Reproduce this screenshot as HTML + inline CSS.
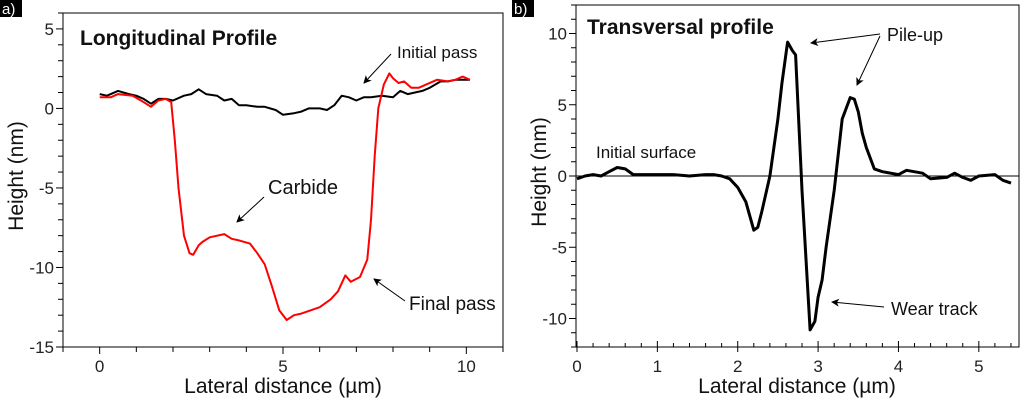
<!DOCTYPE html>
<html><head><meta charset="utf-8"><style>
body{margin:0;background:#fff;width:1024px;height:400px;overflow:hidden}
svg{display:block;font-family:"Liberation Sans",sans-serif}
</style></head><body>
<svg id="chart" width="1024" height="400" viewBox="0 0 1024 400">
<defs><marker id="ah" markerWidth="8" markerHeight="8" refX="7" refY="4" orient="auto" markerUnits="userSpaceOnUse"><path d="M0,0 L8,4 L0,8 L2,4 Z" fill="#000"/></marker></defs>
<g id="ga"></g>
<g id="gb"></g>
</svg>
<script>
const initialX=[0,0.2,0.5,0.8,1.0,1.2,1.4,1.6,1.8,2.0,2.3,2.5,2.7,2.9,3.2,3.4,3.6,3.8,4.0,4.3,4.5,4.8,5.0,5.3,5.5,5.7,6.0,6.2,6.4,6.6,6.8,7.0,7.2,7.4,7.7,8.0,8.2,8.4,8.6,8.8,9.0,9.3,9.5,9.7,9.9,10.1];
const initialY=[0.9,0.8,1.1,0.9,0.8,0.6,0.3,0.6,0.6,0.5,0.8,0.9,1.2,0.9,0.8,0.5,0.6,0.2,0.2,0.1,0.1,-0.1,-0.4,-0.3,-0.2,0,0,-0.1,0.2,0.8,0.7,0.5,0.7,0.7,0.8,0.7,1.1,0.9,1.0,1.1,1.3,1.7,1.7,1.8,1.8,1.8];
const finalX=[0,0.3,0.5,0.9,1.2,1.4,1.6,1.8,1.95,2.05,2.15,2.3,2.45,2.55,2.7,2.8,3.0,3.4,3.6,3.8,4.1,4.3,4.5,4.7,4.9,5.1,5.3,5.5,6.0,6.3,6.5,6.7,6.85,7.1,7.3,7.4,7.5,7.6,7.75,7.9,8.0,8.15,8.3,8.5,8.7,8.9,9.2,9.5,9.7,9.9,10.1];
const finalY=[0.7,0.7,0.9,0.8,0.4,0.1,0.5,0.6,0.4,-2,-5,-8,-9.1,-9.2,-8.6,-8.4,-8.1,-7.9,-8.2,-8.3,-8.5,-9.1,-9.8,-11.2,-12.7,-13.3,-13.0,-12.9,-12.5,-12.0,-11.5,-10.5,-10.9,-10.6,-9.5,-7,-3,0,1.5,2.2,1.9,1.6,1.7,1.3,1.3,1.5,1.8,1.7,1.8,2.0,1.8];
const transX=[0,0.1,0.2,0.3,0.4,0.5,0.6,0.7,0.8,1.0,1.2,1.4,1.6,1.7,1.8,1.9,2.0,2.1,2.2,2.25,2.3,2.4,2.5,2.55,2.62,2.68,2.72,2.8,2.9,2.96,3.0,3.05,3.1,3.2,3.3,3.4,3.45,3.5,3.55,3.6,3.7,3.8,4.0,4.1,4.3,4.4,4.6,4.7,4.8,4.9,5.0,5.2,5.3,5.4];
const transY=[-0.2,0,0.1,0,0.3,0.6,0.5,0.1,0.1,0.1,0.1,0,0.1,0.1,0,-0.2,-0.8,-1.8,-3.8,-3.6,-2.5,0,4,6.5,9.4,8.8,8.5,-1,-10.8,-10.2,-8.5,-7.3,-5,-1,4,5.5,5.4,4.5,3.0,2.0,0.5,0.3,0.1,0.4,0.2,-0.2,-0.1,0.2,-0.1,-0.3,0,0.1,-0.3,-0.5];
const aXTicks=[0,5,10];
const aYTicks=[5,0,-5,-10,-15];
const bXTicks=[0,1,2,3,4,5];
const bYTicks=[10,5,0,-5,-10];

const NS='http://www.w3.org/2000/svg';
function mk(p,t,a){const e=document.createElementNS(NS,t);for(const k in a)e.setAttribute(k,a[k]);p.appendChild(e);return e;}
function lin(d0,d1,r0,r1){return v=>r0+(v-d0)*(r1-r0)/(d1-d0);}

function panel(g,box,xs,ys,xMinor,yMinor,xT,yT,outTicks){
  const [L,T,R,B]=box;
  const f=mk(g,'rect',{x:L,y:T,width:R-L,height:B-T,fill:'none',stroke:'#000','stroke-width':1});
  
  
  const xd=xs.domain, yd=ys.domain;
  for(let v=Math.ceil(xd[0]/xMinor)*xMinor;v<=xd[1]+1e-9;v+=xMinor){
    const x=xs(v);const maj=xT.some(t=>Math.abs(t-v)<1e-6);
    const tk=mk(g,'line',{x1:x,x2:x,y1:outTicks?B:B-(maj?6:4),y2:outTicks?B+(maj?7:5):B+(maj?5:0),stroke:'#000','stroke-width':1});
    
    
  }
  for(let v=Math.ceil(yd[0]/yMinor)*yMinor;v<=yd[1]+1e-9;v+=yMinor){
    const y=ys(v);const maj=yT.some(t=>Math.abs(t-v)<1e-6);
    const tk=mk(g,'line',{x1:L-(maj?7:5),x2:L,y1:y,y2:y,stroke:'#000','stroke-width':1});
    
    
  }
  xT.forEach(v=>{const t=mk(g,'text',{x:xs(v),y:B+25,'font-size':17,'text-anchor':'middle',fill:'#222'});t.textContent=v;
    
    });
  yT.forEach(v=>{const t=mk(g,'text',{x:L-9,y:ys(v)+6,'font-size':17,'text-anchor':'end',fill:'#222'});t.textContent=v;
    
    });
}
function line(g,X,Y,xs,ys,col,w,name){
  const p=mk(g,'polyline',{points:X.map((x,i)=>xs(x).toFixed(1)+','+ys(Y[i]).toFixed(1)).join(' '),fill:'none',stroke:col,'stroke-width':w,'stroke-linejoin':'round'});
  
  
}
function txt(g,x,y,s,size,name,extra){
  const t=mk(g,'text',Object.assign({x:x,y:y,'font-size':size,fill:'#111'},extra||{}));t.textContent=s;
  
  
  return t;
}
function arrow(g,x1,y1,x2,y2,name){
  const a=mk(g,'line',{x1,y1,x2,y2,stroke:'#000','stroke-width':1,'marker-end':'url(#ah)'});
  
  
}
function label(g,x,s,name){
  mk(g,'rect',{x:x,y:0,width:22,height:17,fill:'#000'});
  txt(g,x+2,14,s,15,name,{fill:'#fff'});
}

// Panel a
const ga=document.getElementById('ga');
const ax=lin(-1,11,63,503); ax.domain=[-1,11];
const ay=lin(-15,6,347,13); ay.domain=[-15,6];
panel(ga,[63,13,503,347],ax,ay,1,1,aXTicks,aYTicks,true);
line(ga,initialX,initialY,ax,ay,'#000',2,'initial-pass-line');
line(ga,finalX,finalY,ax,ay,'#f00',2,'final-pass-line');
txt(ga,80,45,'Longitudinal Profile',21,'panel-a-title',{'font-weight':'bold'});
txt(ga,397,58,'Initial pass',17,'initial-pass-label');
arrow(ga,391,54,364,83,'initial-pass-arrow');
txt(ga,268,194,'Carbide',20,'carbide-label');
arrow(ga,264,197,237,222,'carbide-arrow');
txt(ga,409,310,'Final pass',19,'final-pass-label');
arrow(ga,405,301,374,279,'final-pass-arrow');
txt(ga,283,393,'Lateral distance (\u00b5m)',21,'x-axis-title-a',{'text-anchor':'middle'});
txt(ga,0,0,'Height (nm)',21,'y-axis-title-a',{'text-anchor':'middle',transform:'translate(23,176) rotate(-90)'});
label(ga,0,'a)','panel-a-label');

// Panel b
const gb=document.getElementById('gb');
const bx=lin(0,5.5,577,1019); bx.domain=[0,5.5];
const by=lin(-12,12,347,5); by.domain=[-12,12];
panel(gb,[576,5,1019,347],bx,by,0.2,1,bXTicks,bYTicks,false);
const zl=mk(gb,'line',{x1:576,x2:1019,y1:by(0),y2:by(0),stroke:'#000','stroke-width':1});


line(gb,transX,transY,bx,by,'#000',3,'transversal-profile-line');
txt(gb,587,34,'Transversal profile',21,'panel-b-title',{'font-weight':'bold'});
txt(gb,887,41,'Pile-up',18,'pile-up-label');
arrow(gb,880,34,811,43,'pile-up-arrow-1');
arrow(gb,880,36,857,85,'pile-up-arrow-2');
txt(gb,596,158,'Initial surface',17,'initial-surface-label');
txt(gb,891,315,'Wear track',18,'wear-track-label');
arrow(gb,884,307,832,302,'wear-track-arrow');
txt(gb,797,393,'Lateral distance (\u00b5m)',21,'x-axis-title-b',{'text-anchor':'middle'});
txt(gb,0,0,'Height (nm)',21,'y-axis-title-b',{'text-anchor':'middle',transform:'translate(546,172) rotate(-90)'});
label(gb,512,'b)','panel-b-label');
</script>
</body></html>
